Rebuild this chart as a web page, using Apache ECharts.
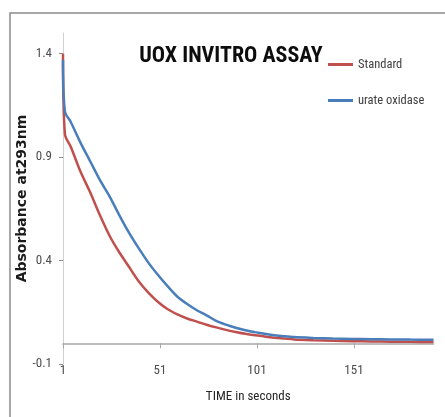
<!DOCTYPE html>
<html>
<head>
<meta charset="utf-8">
<script src="https://cdn.jsdelivr.net/npm/echarts@6/dist/echarts.min.js"></script>
<style>html,body{margin:0;padding:0;background:#fff;}#c{width:445px;height:417px;}</style>
</head>
<body>
<div id="c"></div>
<script>
// time points (seconds)
const timePoints = [1, 2, 5, 10, 15, 20, 25, 30, 35, 40, 45, 50, 55, 60, 65, 70, 75, 80, 85, 90, 95, 100, 105, 110, 115, 120, 130, 140, 150, 160, 170, 180, 192];
// absorbance at 293nm
const standardValues = [1.40, 1.01, 0.95, 0.83, 0.73, 0.62, 0.52, 0.44, 0.37, 0.30, 0.245, 0.20, 0.165, 0.14, 0.12, 0.105, 0.09, 0.077, 0.065, 0.055, 0.046, 0.039, 0.033, 0.027, 0.023, 0.019, 0.015, 0.012, 0.010, 0.009, 0.008, 0.007, 0.006];
const urateOxidaseValues = [1.37, 1.12, 1.07, 0.97, 0.88, 0.79, 0.71, 0.62, 0.535, 0.46, 0.39, 0.33, 0.275, 0.225, 0.19, 0.16, 0.135, 0.108, 0.09, 0.075, 0.063, 0.054, 0.046, 0.039, 0.034, 0.030, 0.026, 0.023, 0.021, 0.020, 0.019, 0.018, 0.017];
const xTicks = [1, 51, 101, 151];
const yTicks = [-0.1, 0.4, 0.9, 1.4];
const seriesNames = ['Standard', 'urate oxidase'];
const titleText = 'UOX INVITRO ASSAY';
const xName = 'TIME in seconds';
const yName = 'Absorbance at293nm';

const narrow = "'Liberation Sans Narrow', 'Roboto Condensed', 'Liberation Sans', sans-serif";
const pair = (vals) => timePoints.map((t, i) => [t, vals[i]]);

const chart = echarts.init(document.getElementById('c'), null, {renderer: 'canvas'});
chart.setOption({
  animation: false,
  backgroundColor: '#fff',
  title: {
    text: titleText,
    left: 226, top: 40,
    textAlign: 'center',
    textStyle: {fontFamily: narrow, fontSize: 22, fontWeight: 'bold', color: '#0d0d0d'}
  },
  legend: {
    orient: 'vertical',
    left: 323, top: 53,
    itemWidth: 25, itemHeight: 3, itemGap: 23,
    icon: 'rect',
    textStyle: {fontFamily: narrow, fontSize: 12.5, color: '#404040'},
    data: seriesNames
  },
  graphic: [{
    type: 'rect', silent: true, z: -1,
    shape: {x: 10, y: 13, width: 600, height: 600},
    style: {fill: 'none', stroke: '#8a8a8a', lineWidth: 1.5}
  }],
  grid: {left: 63, right: 11.5, top: 33, bottom: 53, outerBoundsMode: 'none', containLabel: false},
  xAxis: {
    type: 'value', min: 1, max: 192, position: 'bottom', offset: -20.7,
    name: xName, nameLocation: 'middle', nameGap: 47,
    nameTextStyle: {fontFamily: narrow, fontSize: 13, color: '#262626'},
    axisLine: {onZero: false, lineStyle: {color: '#a6a6a6', width: 1.5}},
    axisTick: {show: true, length: 5, lineStyle: {color: '#a6a6a6'}, customValues: xTicks},
    axisLabel: {customValues: xTicks, margin: 21, fontFamily: narrow, fontSize: 13, color: '#4d4d4d'},
    splitLine: {show: false}
  },
  yAxis: {
    type: 'value', min: -0.1, max: 1.5,
    name: yName, nameLocation: 'middle', nameGap: 34, nameRotate: 90, nameMoveOverlap: false,
    nameTextStyle: {fontFamily: "'DejaVu Sans', sans-serif", fontSize: 14, fontWeight: 'bold', color: '#1a1a1a'},
    axisLine: {show: true, lineStyle: {color: '#d0d0d0', width: 1}},
    axisTick: {show: true, length: 4, lineStyle: {color: '#8c8c8c'}, customValues: yTicks},
    axisLabel: {customValues: yTicks, margin: 11, fontFamily: narrow, fontSize: 13, color: '#4d4d4d'},
    splitLine: {show: false}
  },
  series: [
    {name: seriesNames[0], type: 'line', data: pair(standardValues), smooth: 0.3, showSymbol: false,
     lineStyle: {color: '#c0504d', width: 2.5}, itemStyle: {color: '#c0504d'}},
    {name: seriesNames[1], type: 'line', data: pair(urateOxidaseValues), smooth: 0.3, showSymbol: false,
     lineStyle: {color: '#4a7ebb', width: 2.5}, itemStyle: {color: '#4a7ebb'}}
  ]
});
</script>
</body>
</html>
